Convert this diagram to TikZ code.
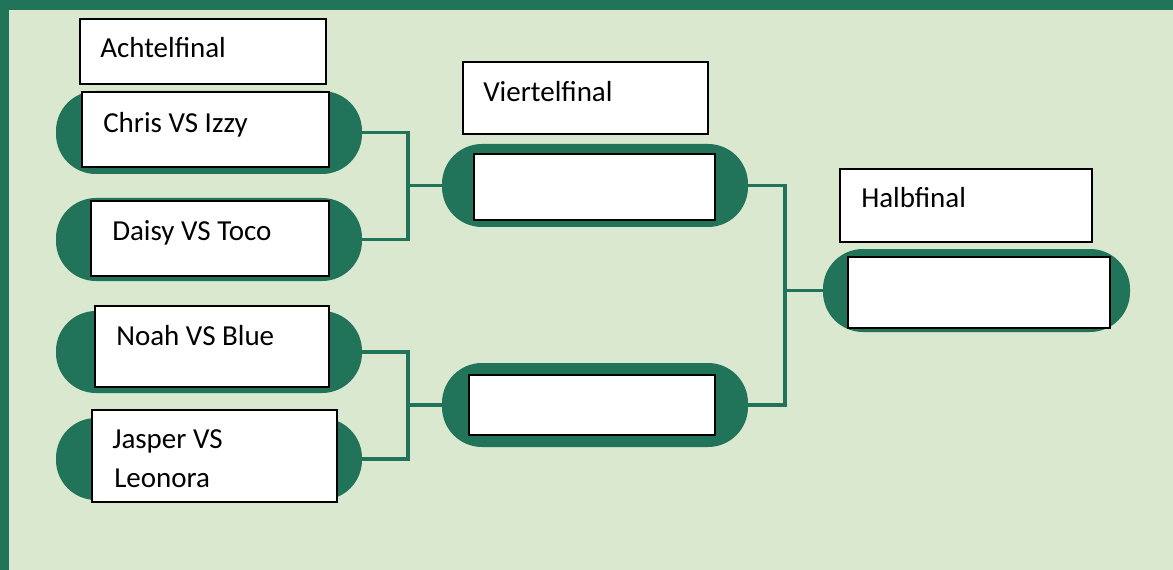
\documentclass[tikz,border=0pt]{standalone}
\usepackage{fontspec}
\setmainfont{Carlito}
\usetikzlibrary{fit}
\definecolor{dkgreen}{RGB}{33,115,89}
\definecolor{ltgreen}{RGB}{217,232,206}
\begin{document}
\begin{tikzpicture}[x=0.75pt,y=-0.75pt,
  pill/.style={fill=dkgreen,draw=none,rounded corners=30pt,inner sep=0pt},
  wbox/.style={fill=white,draw=black,line width=0.9pt,inner sep=0pt},
  lbl/.style={anchor=base west,inner sep=0pt,font=\fontsize{21.75}{29}\selectfont},
  conn/.style={draw=dkgreen,line width=2.4pt}]
% background and frame
\fill[dkgreen] (0,0) rectangle (1173,570);
\fill[ltgreen] (9,10) rectangle (1173,570);
\useasboundingbox (0,0) rectangle (1173,570);
% pills
\node[pill,fit={(56,91) (362,174)}] (p1) {};
\node[pill,fit={(56,198) (362,281)}] (p2) {};
\node[pill,fit={(56,311) (362,393)}] (p3) {};
\node[pill,fit={(56,418) (362,500)}] (p4) {};
\node[pill,fit={(442,144) (748,227)}] (q1) {};
\node[pill,fit={(442,363) (748,447)}] (q2) {};
\node[pill,fit={(823,249) (1130,332)}] (s1) {};
% connectors
\coordinate (j1) at (408,185.5);
\coordinate (j2) at (408,405);
\coordinate (j3) at (785,290.5);
\draw[conn] (p1.east) -| (j1) |- (p2.east);
\draw[conn] (j1) -- (q1.west);
\draw[conn] (p3.east) -| (j2) |- (p4.east);
\draw[conn] (j2) -- (q2.west);
\draw[conn] (q1.east) -| (j3) |- (q2.east);
\draw[conn] (j3) -- (s1.west);
% white boxes
\node[wbox,fit={(80,19) (326,84)}] (hA) {};
\node[wbox,fit={(463,62) (708,134)}] (hV) {};
\node[wbox,fit={(840,169) (1092,242)}] (hH) {};
\node[wbox,fit={(82,92) (329,167)}] (w1) {};
\node[wbox,fit={(91,201) (329,276)}] (w2) {};
\node[wbox,fit={(95,306) (329,387)}] (w3) {};
\node[wbox,fit={(92,410) (337,502)}] (w4) {};
\node[wbox,fit={(474,154) (715,220)}] (wq1) {};
\node[wbox,fit={(469,375) (715,435)}] (wq2) {};
\node[wbox,fit={(848,257) (1110,328)}] (ws) {};
% texts
\node[lbl] (tA) at (100,58) {Achtelfinal};
\node[lbl] (tV) at (483,102) {Viertelfinal};
\node[lbl] (tH) at (861,208) {Halbfinal};
\node[lbl] (t1) at (103,133) {Chris VS Izzy};
\node[lbl] (t2) at (112,241) {Daisy VS Toco};
\node[lbl] (t3) at (116,345) {Noah VS Blue};
\node[lbl] (t4) at (112,448) {Jasper VS};
\node[lbl] (t5) at (114,487) {Leonora};
\end{tikzpicture}
\end{document}
